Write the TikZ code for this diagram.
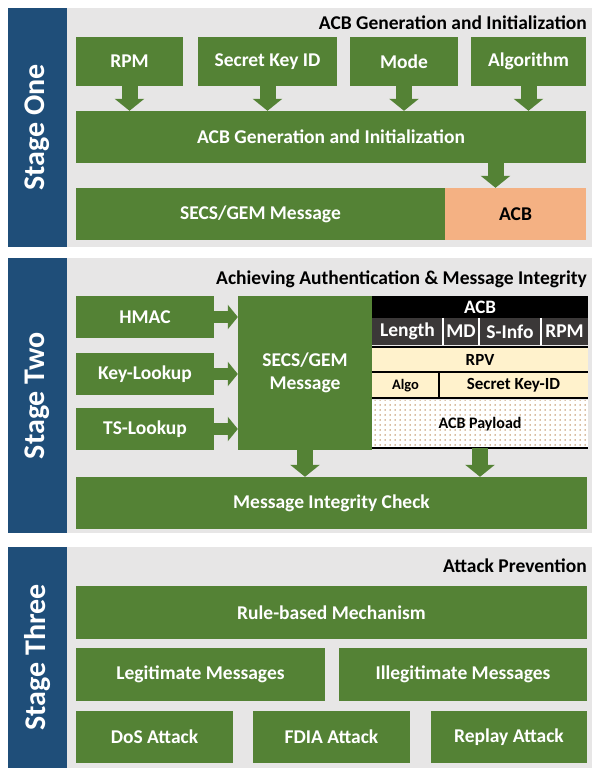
\documentclass[tikz,border=0pt]{standalone}
\usepackage{fontspec}
\setmainfont{Carlito}
\usepackage{tikz}
\usetikzlibrary{arrows.meta, patterns.meta}

\definecolor{boxgreen}{HTML}{548235}
\definecolor{stageblue}{HTML}{1F4E79}
\definecolor{panelgray}{HTML}{E7E6E6}
\definecolor{acborange}{HTML}{F4B183}
\definecolor{rowcream}{HTML}{FFF2CC}
\definecolor{rowdark}{HTML}{3B3838}
\definecolor{dotbrown}{HTML}{B07840}

\tikzset{
  box/.style={fill=boxgreen, text=white, inner sep=0pt, align=center,
    font=\bfseries\fontsize{19.5}{23}\selectfont},
  paneltitle/.style={anchor=east, inner sep=0pt, font=\bfseries\fontsize{19.5}{23}\selectfont},
  stagelabel/.style={rotate=90, text=white, inner sep=0pt, font=\bfseries\fontsize{30}{36}\selectfont},
  fieldcell/.style={fill=rowdark, text=white, inner sep=0pt, minimum height=27pt,
    font=\bfseries\fontsize{19.5}{23}\selectfont},
  creamcell/.style={fill=rowcream, inner sep=0pt, font=\bfseries\fontsize{17}{20}\selectfont},
  rowrule/.style={line width=2pt},
  fatarrow/.style={draw=boxgreen, line width=16pt, -{Triangle[width=29pt,length=12pt]}},
  sidearrow/.style={draw=boxgreen, line width=12pt, -{Triangle[width=24pt,length=10pt]}}
}

\begin{document}
\begin{tikzpicture}[x=1pt, y=-1pt]
        \useasboundingbox (0,0) rectangle (596,770);

        % Draw the three stage panels
        \foreach \top/\bot/\name/\id in {8/247/Stage One/one, 258/533/Stage Two/two, 547/768/Stage Three/three} {
            \fill[panelgray] (67,\top) rectangle (592,\bot);
            \fill[stageblue] (8,\top) rectangle (67,\bot);
            \node[stagelabel] (bar\id) at (37.5,{(\top+\bot)/2}) {\name};
        }

        % Stage one: inputs
        \node[paneltitle] (title1) at (587,23) {ACB Generation and Initialization};
        \node[box, minimum width=107pt, minimum height=49pt] (rpm) at (129.5,61.5) {RPM};
        \node[box, minimum width=139pt, minimum height=49pt] (keyid) at (267.5,61.5) {Secret Key ID};
        \node[box, minimum width=108pt, minimum height=49pt] (mode) at (404,61.5) {Mode};
        \node[box, minimum width=115pt, minimum height=49pt] (algo) at (528.5,61.5) {Algorithm};

        % Stage one: generation and message
        \node[box, minimum width=510pt, minimum height=52pt] (gen) at (331,137) {ACB Generation and Initialization};
        \node[box, minimum width=369pt, minimum height=52pt] (secs1) at (260.5,214) {SECS/GEM Message};
        \node[box, fill=acborange, text=black, minimum width=141pt, minimum height=52pt] (acb1) at (515.5,214) {ACB};
        \coordinate (acbin) at ([xshift=-20pt]acb1.north);

        \foreach \src in {rpm, keyid, mode, algo}
            \draw[fatarrow] (\src.south) -- (\src.south |- gen.north);
        \draw[fatarrow] (acbin |- gen.south) -- (acbin);

        % Stage two: lookups and message
        \node[paneltitle] (title2) at (587,279) {Achieving Authentication \& Message Integrity};
        \node[box, minimum width=138pt, minimum height=42pt] (hmac) at (145,317) {HMAC};
        \node[box, minimum width=138pt, minimum height=42pt] (keylook) at (145,374) {Key-Lookup};
        \node[box, minimum width=138pt, minimum height=42pt] (tslook) at (145,429) {TS-Lookup};
        \node[box, minimum width=134pt, minimum height=154pt] (secs2) at (305,373) {SECS/GEM\\Message};

        % Stage two: ACB layout
        \node[fill=black, text=white, inner sep=0pt, minimum width=216pt, minimum height=22pt,
            font=\bfseries\fontsize{19}{22}\selectfont] (acbhead) at (480,307) {ACB};
        \foreach \cx/\w/\lbl/\id in {407.5/71/Length/len, 461/36/MD/md, 510/62/S-Info/sinfo, 564.5/47/RPM/rpmfield}
            \node[fieldcell, minimum width=\w pt] (\id) at (\cx,331.5) {\lbl};
        \foreach \id in {len, md, sinfo}
            \draw[white, line width=1.5pt] (\id.north east) -- (\id.south east);
        \node[creamcell, minimum width=216pt, minimum height=25pt] (rpv) at (480,359.5) {RPV};
        \node[creamcell, minimum width=67pt, minimum height=25pt,
            font=\bfseries\fontsize{14.5}{17}\selectfont] (algofield) at (405.5,385.5) {Algo};
        \node[creamcell, minimum width=149pt, minimum height=25pt] (keyfield) at (513.5,385.5) {Secret Key-ID};
        \node[preaction={fill=white}, pattern={Dots[distance=5pt, radius=0.75pt]}, pattern color=dotbrown,
            inner sep=0pt, minimum width=216pt, minimum height=48pt,
            font=\bfseries\fontsize{16}{19}\selectfont] (payload) at (480,424) {ACB Payload};
        \draw[rowrule] (rpv.north west) -- (rpv.north east);
        \draw[rowrule] (rpv.south west) -- (rpv.south east);
        \draw[rowrule] (algofield.south west) -- (keyfield.south east);
        \draw[rowrule] (algofield.north east) -- (algofield.south east);
        \draw[rowrule] (payload.south west) -- (payload.south east);

        % Stage two: integrity check
        \node[box, minimum width=511pt, minimum height=52pt] (mic) at (331.5,503) {Message Integrity Check};
        \foreach \src in {hmac, keylook, tslook}
            \draw[sidearrow] (\src.east) -- (\src.east -| secs2.west);
        \draw[fatarrow] (secs2.south) -- (secs2.south |- mic.north);
        \draw[fatarrow] (payload.south) -- (payload.south |- mic.north);

        % Stage three: attack prevention
        \node[paneltitle] (title3) at (587,566) {Attack Prevention};
        \node[box, minimum width=511pt, minimum height=53pt] (rule) at (331.5,612.5) {Rule-based Mechanism};
        \node[box, minimum width=249pt, minimum height=53pt] (legit) at (200.5,674.5) {Legitimate Messages};
        \node[box, minimum width=248pt, minimum height=53pt] (illegit) at (463,674.5) {Illegitimate Messages};
        \node[box, minimum width=157pt, minimum height=52pt] (dos) at (154.5,737) {DoS Attack};
        \node[box, minimum width=157pt, minimum height=52pt] (fdia) at (331.5,737) {FDIA Attack};
        \node[box, minimum width=156pt, minimum height=52pt] (replay) at (509,737) {Replay Attack};
\end{tikzpicture}
\end{document}
